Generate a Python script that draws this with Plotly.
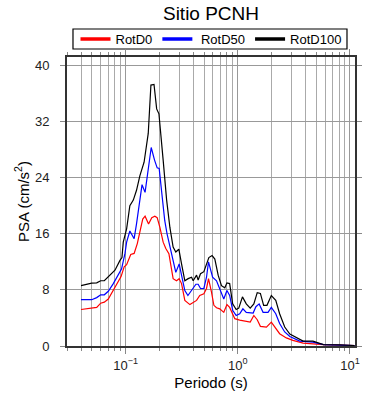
import plotly.graph_objects as go

# ---- data ----
period_d100 = [0.040, 0.0498, 0.0552, 0.0599, 0.0645, 0.0725, 0.0803, 0.089, 0.0927, 0.0952, 0.0986,
               0.102, 0.109, 0.117, 0.125, 0.134, 0.146, 0.159, 0.168, 0.179, 0.189, 0.198, 0.216,
               0.232, 0.248, 0.265, 0.280, 0.298, 0.315, 0.337, 0.361, 0.387, 0.400, 0.429, 0.443,
               0.465, 0.498, 0.526, 0.552, 0.590, 0.624, 0.668, 0.715, 0.766, 0.80, 0.846, 0.90,
               0.967, 1.02, 1.10, 1.19, 1.29, 1.39, 1.49, 1.59, 1.70, 1.82, 1.99, 2.18, 2.36, 2.62,
               2.91, 3.34, 3.82, 4.68, 5.2, 5.8, 8.1, 11.0]
psa_d100 = [8.6, 8.96, 9.0, 9.3, 9.3, 10.1, 10.8, 12.2, 12.6, 14.8, 16.0,
            16.7, 20.0, 20.8, 22.2, 24.3, 26.2, 30.3, 37.2, 37.3, 33.8, 33.1, 26.5,
            20.8, 16.9, 14.1, 13.4, 13.8, 11.7, 9.3, 9.6, 9.8, 9.3, 10.1, 9.4,
            10.3, 10.6, 11.7, 12.6, 12.9, 12.4, 10.1, 8.6, 8.3, 9.0, 8.9, 6.0,
            5.2, 5.4, 7.0, 6.0, 5.4, 6.0, 7.6, 7.5, 5.8, 5.8, 7.2, 6.5, 4.6, 2.7,
            1.7, 1.2, 0.7, 0.7, 0.4, 0.2, 0.17, 0.07]

period_d50 = [0.040, 0.0498, 0.0552, 0.0599, 0.0645, 0.070, 0.0776, 0.086, 0.092, 0.0986, 0.102,
              0.109, 0.119, 0.125, 0.132, 0.140, 0.149, 0.158, 0.169, 0.181, 0.191, 0.199, 0.209,
              0.223, 0.234, 0.248, 0.265, 0.280, 0.300, 0.317, 0.337, 0.359, 0.387, 0.423, 0.443,
              0.465, 0.498, 0.526, 0.548, 0.596, 0.646, 0.69, 0.75, 0.80, 0.846, 0.90, 0.967,
              1.04, 1.11, 1.19, 1.37, 1.45, 1.55, 1.68, 1.86, 1.99, 2.18, 2.36, 2.62, 2.91, 3.57,
              4.68, 5.8, 11.0]
psa_d50 = [6.6, 6.6, 6.9, 7.3, 7.3, 7.8, 8.9, 10.3, 11.0, 13.2, 14.8,
           16.4, 15.3, 17.4, 20.5, 23.0, 21.9, 25.0, 28.3, 26.5, 25.4, 25.3, 21.7,
           17.9, 16.0, 14.1, 12.2, 10.5, 11.7, 9.8, 7.9, 7.2, 7.9, 8.8, 8.8,
           8.2, 8.2, 9.8, 12.0, 9.8, 9.3, 8.2, 6.7, 7.9, 7.2, 5.1, 4.35,
           4.6, 5.3, 4.8, 4.7, 5.6, 6.0, 4.8, 4.8, 5.5, 4.6, 3.2, 2.0, 1.35, 0.7,
           0.55, 0.2, 0.07]

period_d0 = [0.040, 0.045, 0.0498, 0.0552, 0.0599, 0.0645, 0.070, 0.0776, 0.086, 0.091, 0.097,
             0.102, 0.111, 0.119, 0.127, 0.134, 0.142, 0.149, 0.160, 0.171, 0.182, 0.191, 0.202,
             0.216, 0.228, 0.243, 0.253, 0.265, 0.284, 0.300, 0.315, 0.337, 0.374, 0.40, 0.429,
             0.458, 0.498, 0.526, 0.548, 0.582, 0.612, 0.646, 0.69, 0.75, 0.80, 0.846, 0.94,
             1.04, 1.29, 1.39, 1.49, 1.59, 1.80, 1.99, 2.18, 2.36, 2.71, 3.10, 3.82, 5.8, 11.0]
psa_d0 = [5.2, 5.3, 5.45, 5.5, 6.1, 6.25, 6.7, 7.9, 9.2, 9.9, 11.3,
          11.6, 13.05, 13.2, 14.6, 16.2, 18.1, 18.5, 17.4, 18.3, 18.5, 18.3, 16.9,
          14.8, 13.9, 13.15, 11.2, 9.6, 9.3, 9.6, 8.9, 6.5, 5.9, 6.25, 6.5,
          7.2, 7.45, 8.2, 9.6, 7.7, 5.8, 5.45, 5.3, 4.8, 5.9, 5.5, 3.9,
          3.7, 3.4, 4.35, 3.75, 2.8, 2.7, 3.4, 2.45, 1.75, 1.15, 0.8, 0.4, 0.2, 0.07]

series_names = ["RotD0", " RotD50", "RotD100"]
series_colors = ["#ff0000", "#0000ff", "#000000"]

x_major = [0.1, 1, 10]
x_major_text = ["10<sup>\u22121</sup>", "10<sup>0</sup>", "10<sup>1</sup>"]
x_minor = [m * 10 ** e for e in (-2, -1, 0, 1) for m in range(2, 10)]
y_ticks = [0, 8, 16, 24, 32, 40]

FONT = "Liberation Sans, Arial, Helvetica, sans-serif"

fig = go.Figure()
for px_, py_, nm, col in zip([period_d0, period_d50, period_d100],
                             [psa_d0, psa_d50, psa_d100], series_names, series_colors):
    fig.add_trace(go.Scatter(x=px_, y=py_, mode="lines", name=nm, showlegend=False,
                             line=dict(color=col, width=1.2)))
# legend-only entries with thick line swatches
for nm, col in zip(series_names, series_colors):
    fig.add_trace(go.Scatter(x=[None], y=[None], mode="lines", name=nm,
                             line=dict(color=col, width=3.5)))

# legend frame (drawn as a shape so its size matches the reference)
fig.add_shape(type="rect", xref="paper", yref="paper",
              x0=0.0208, x1=0.9722, y0=1.0277, y1=1.0969,
              line=dict(color="#000000", width=1.2), fillcolor="white", layer="below")

fig.update_layout(
    width=390, height=400,
    margin=dict(l=67, r=35, t=57, b=54, autoexpand=False),
    paper_bgcolor="white", plot_bgcolor="white",
    font=dict(family=FONT, color="#000000", size=13),
    title=dict(text="Sitio PCNH", x=0.5, xref="paper", xanchor="center",
               y=0.967, yanchor="middle", font=dict(size=19, family=FONT, color="#000000")),
    showlegend=True,
    legend=dict(orientation="h", x=0.5, xanchor="center", y=1.0623, yanchor="middle",
                borderwidth=0, bgcolor="rgba(0,0,0,0)",
                font=dict(size=13, family=FONT), itemwidth=30,
                entrywidth=0, traceorder="normal", tracegroupgap=0),
)

fig.update_xaxes(
    type="log", range=[-1.523, 1.045],
    tickvals=x_major, ticktext=x_major_text,
    ticks="outside", ticklen=6, tickcolor="#888888", tickwidth=1,
    showline=True, linecolor="#333333", linewidth=2, mirror="ticks",
    showgrid=True, gridcolor="#999999", gridwidth=1,
    minor=dict(tickvals=x_minor, ticks="outside", ticklen=3, tickcolor="#888888",
               showgrid=True, gridcolor="#aaaaaa", gridwidth=1),
    tickfont=dict(size=13, color="#222222"),
    title=dict(text="Periodo (s)", font=dict(size=15), standoff=6),
    zeroline=False,
)
fig.update_yaxes(
    range=[0, 41.2], tickvals=y_ticks,
    ticks="outside", ticklen=5, tickcolor="#888888", tickwidth=1,
    showline=True, linecolor="#333333", linewidth=2, mirror="ticks",
    showgrid=True, gridcolor="#999999", gridwidth=1,
    tickfont=dict(size=13, color="#222222"), ticklabelstandoff=8,
    title=dict(text="PSA (cm/s<sup>2</sup>)", font=dict(size=15), standoff=2),
    zeroline=False,
)

fig.write_html("out.html", config={"displayModeBar": False},
               post_script="document.body.style.margin='0px';")
